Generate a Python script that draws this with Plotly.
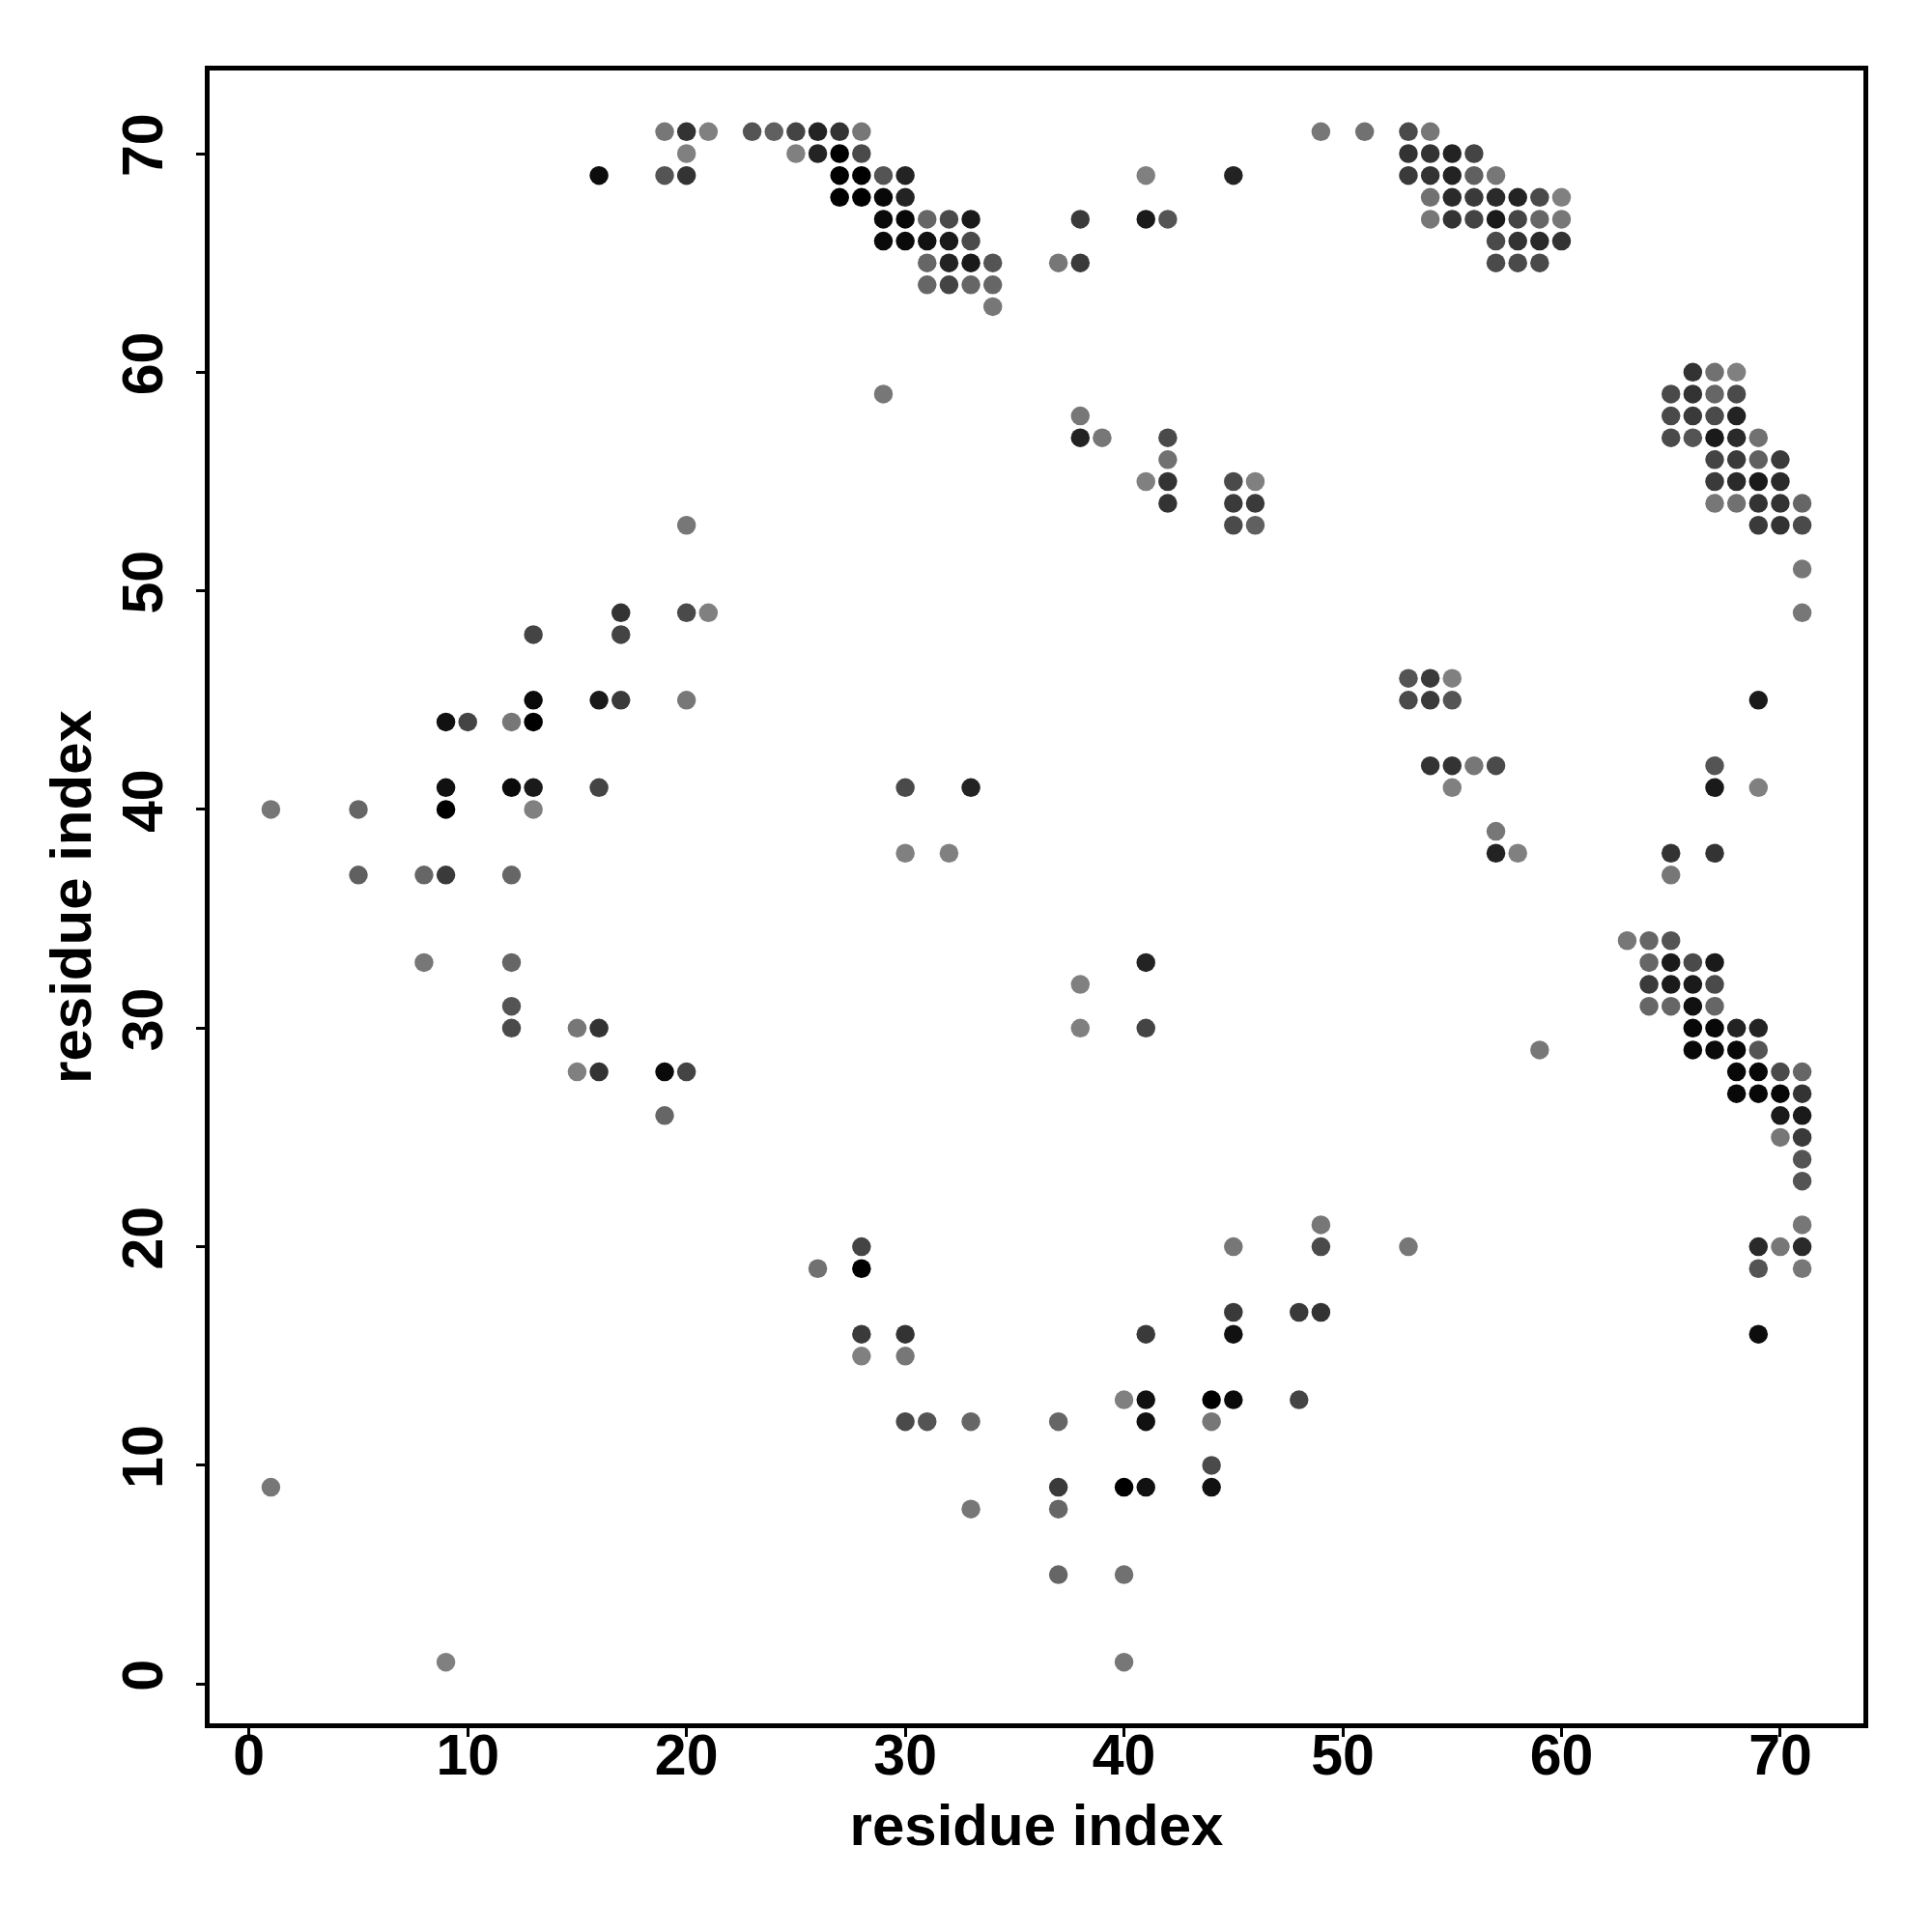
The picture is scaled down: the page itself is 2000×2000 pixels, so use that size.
import plotly.graph_objects as go

# residue i (x), residue j (y), contact probability p (0 = light grey, 1 = black)
res_i = [
    19, 20, 21, 23, 24, 25, 26, 27, 28,
    20, 25, 26, 27, 28,
    19, 20, 27, 28, 29, 30,
    27, 28, 29, 30,
    29, 30, 31, 32, 33,
    29, 30, 31, 32, 33,
    31, 32, 33, 34,
    31, 32, 33, 34,
    34, 16,
    41, 45, 38, 41, 42, 37, 38,
    49, 51, 53, 54,
    53, 54, 55, 56,
    53, 54, 55, 56, 57,
    54, 55, 56, 57, 58, 59, 60,
    54, 55, 56, 57, 58, 59, 60,
    57, 58, 59, 60,
    57, 58, 59,
    29,
    38, 38, 39, 42, 42, 41, 42, 42, 45, 46, 45, 46, 45, 46,
    66, 67, 68,
    65, 66, 67, 68,
    65, 66, 67, 68,
    65, 66, 67, 68, 69,
    67, 68, 69, 70,
    67, 68, 69, 70,
    67, 68, 69, 70, 71,
    69, 70, 71,
    71, 71,
    20, 17, 20, 21, 13, 17,
    13, 16, 17, 20,
    9, 10, 12, 13,
    9, 12, 13, 16,
    1, 5, 9, 13,
    5, 8, 9, 12,
    8, 12, 12, 12, 15, 16,
    15, 16, 19, 20, 19,
    30, 33, 30, 32, 41, 38, 38, 41,
    53, 54, 55, 53, 54, 55, 54, 55, 56, 57, 55, 57, 57, 58, 59,
    69, 67, 67, 69, 65, 67, 65,
    63, 64, 65,
    64, 65, 66, 67,
    64, 65, 66, 67,
    64, 65, 66, 67,
    66, 67, 68, 69,
    66, 67, 68, 69,
    68, 69, 70, 71,
    68, 69, 70, 71,
    70, 71,
    70, 71,
    71, 71, 71,
    69, 70, 71,
    69, 71,
    69,
    49, 28, 45, 49, 53,
    26, 28,
    45, 48, 49,
    28, 30, 41, 45,
    28, 30,
    40, 41, 44, 45, 48,
    30, 31, 33, 37, 41, 44,
    44,
    37, 40, 41, 44,
    33, 37,
    37, 40,
    40, 1, 9,
]

res_j = [
    71, 71, 71, 71, 71, 71, 71, 71, 71,
    70, 70, 70, 70, 70,
    69, 69, 69, 69, 69, 69,
    68, 68, 68, 68,
    67, 67, 67, 67, 67,
    66, 66, 66, 66, 66,
    65, 65, 65, 65,
    64, 64, 64, 64,
    63, 69,
    69, 69, 67, 67, 67, 65, 65,
    71, 71, 71, 71,
    70, 70, 70, 70,
    69, 69, 69, 69, 69,
    68, 68, 68, 68, 68, 68, 68,
    67, 67, 67, 67, 67, 67, 67,
    66, 66, 66, 66,
    65, 65, 65,
    59,
    58, 57, 57, 57, 56, 55, 55, 54, 55, 55, 54, 54, 53, 53,
    60, 60, 60,
    59, 59, 59, 59,
    58, 58, 58, 58,
    57, 57, 57, 57, 57,
    56, 56, 56, 56,
    55, 55, 55, 55,
    54, 54, 54, 54, 54,
    53, 53, 53,
    51, 49,
    53, 49, 49, 49, 48, 48,
    45, 45, 45, 45,
    44, 44, 44, 44,
    41, 41, 41, 41,
    40, 40, 40, 40,
    37, 37, 37, 37,
    33, 33, 31, 30, 30, 30,
    28, 28, 28, 28, 26,
    41, 41, 38, 38, 33, 32, 30, 30,
    46, 46, 46, 45, 45, 45, 42, 42, 42, 42, 41, 39, 38, 38, 29,
    45, 42, 41, 41, 38, 38, 37,
    34, 34, 34,
    33, 33, 33, 33,
    32, 32, 32, 32,
    31, 31, 31, 31,
    30, 30, 30, 30,
    29, 29, 29, 29,
    28, 28, 28, 28,
    27, 27, 27, 27,
    26, 26,
    25, 25,
    24, 23, 21,
    20, 20, 20,
    19, 19,
    16,
    21, 20, 20, 20, 20,
    19, 19,
    17, 17, 17,
    16, 16, 16, 16,
    15, 15,
    13, 13, 13, 13, 13,
    12, 12, 12, 12, 12, 12,
    10,
    9, 9, 9, 9,
    8, 8,
    5, 5,
    1, 9, 1,
]

prob = [
    .07, .60, 0, .34, .25, .47, .73, .60, .07,
    0, 0, .73, 1.0, .42,
    .34, .60, 1.0, 1.0, .34, .73,
    1.0, 1.0, .94, .73,
    .92, .94, .20, .42, .80,
    .92, .92, .87, .80, .42,
    .20, .73, .80, .34,
    .20, .47, .20, .20,
    .07, .90,
    0, .73, .55, .80, .34, .07, .55,
    .07, .12, .42, .07,
    .60, .60, .73, .47,
    .55, .60, .73, .25, .07,
    .12, .67, .55, .67, .73, .42, 0,
    .07, .60, .47, .80, .47, .20, .07,
    .42, .60, .67, .60,
    .42, .42, .42,
    .07,
    .07, .73, .07, .42, .12, 0, .60, .60, .42, 0, .55, .55, .42, .25,
    .60, .12, 0,
    .42, .60, .20, .42,
    .42, .55, .42, .73,
    .42, .34, .80, .67, .12,
    .47, .55, .25, .55,
    .55, .67, .80, .67,
    .07, .12, .60, .60, .20,
    .55, .60, .42,
    .07, .07,
    .07, .60, .42, 0, .47, .47,
    .92, .80, .55, .07,
    .87, .47, .07, 1.0,
    .87, .92, .80, .47,
    .07, .20, 1.0, 0,
    .25, .20, .55, .20,
    .07, .20, .34, .42, .07, .60,
    0, .60, .92, .47, .20,
    .42, .73, 0, 0, .73, 0, 0, .47,
    .34, .55, 0, .42, .55, .34, .60, .60, .07, .42, 0, .07, .73, 0, .07,
    .80, .34, .80, 0, .60, .60, .07,
    .07, .20, .34,
    .20, .80, .42, .80,
    .55, .80, .80, .42,
    .20, .20, .87, .20,
    .94, .94, .73, .73,
    .94, .92, .94, .34,
    .94, .94, .42, .20,
    .94, .94, .94, .60,
    .80, .80,
    .07, .55,
    .34, .34, .07,
    .67, .07, .67,
    .34, .07,
    .90,
    .07, .47, .07, .42, .07,
    .12, 1.0,
    .55, .55, .60,
    .55, .60, .55, .87,
    0, .07,
    0, .87, 1.0, .92, .47,
    .42, .34, .20, .20, .87, .07,
    .42,
    .55, 1.0, .87, .87,
    .07, .20,
    .20, .12,
    .07, .07, 0,
]

tick_vals = [0, 10, 20, 30, 40, 50, 60, 70]
axis_label = "residue index"

fig = go.Figure(
    go.Scatter(
        x=res_i,
        y=res_j,
        mode="markers",
        marker=dict(
            size=19.5,
            color=prob,
            colorscale=[[0, "#808080"], [1, "#000000"]],
            cmin=0,
            cmax=1,
            line=dict(width=0),
        ),
        showlegend=False,
    )
)

font_family = "Liberation Sans, Arial, sans-serif"
axis_common = dict(
    range=[-1.8, 73.8],
    tickvals=tick_vals,
    ticks="outside",
    ticklen=9,
    tickwidth=3,
    tickcolor="black",
    showline=True,
    linecolor="black",
    linewidth=5,
    mirror=True,
    showgrid=False,
    zeroline=False,
    tickfont=dict(family=font_family, size=59, color="black", weight="bold"),
    title=dict(text=axis_label,
               font=dict(family=font_family, size=60, color="black", weight="bold")),
)

fig.update_layout(
    width=2000,
    height=2000,
    margin=dict(l=209, r=79, t=65, b=224),
    paper_bgcolor="white",
    plot_bgcolor="white",
    xaxis={**axis_common, "ticklabelstandoff": -32,
           "title": dict(axis_common["title"], standoff=21)},
    yaxis={**axis_common, "tickangle": -90, "ticklabelstandoff": 11,
           "title": dict(axis_common["title"], standoff=3)},
)

fig.write_html("out.html")
